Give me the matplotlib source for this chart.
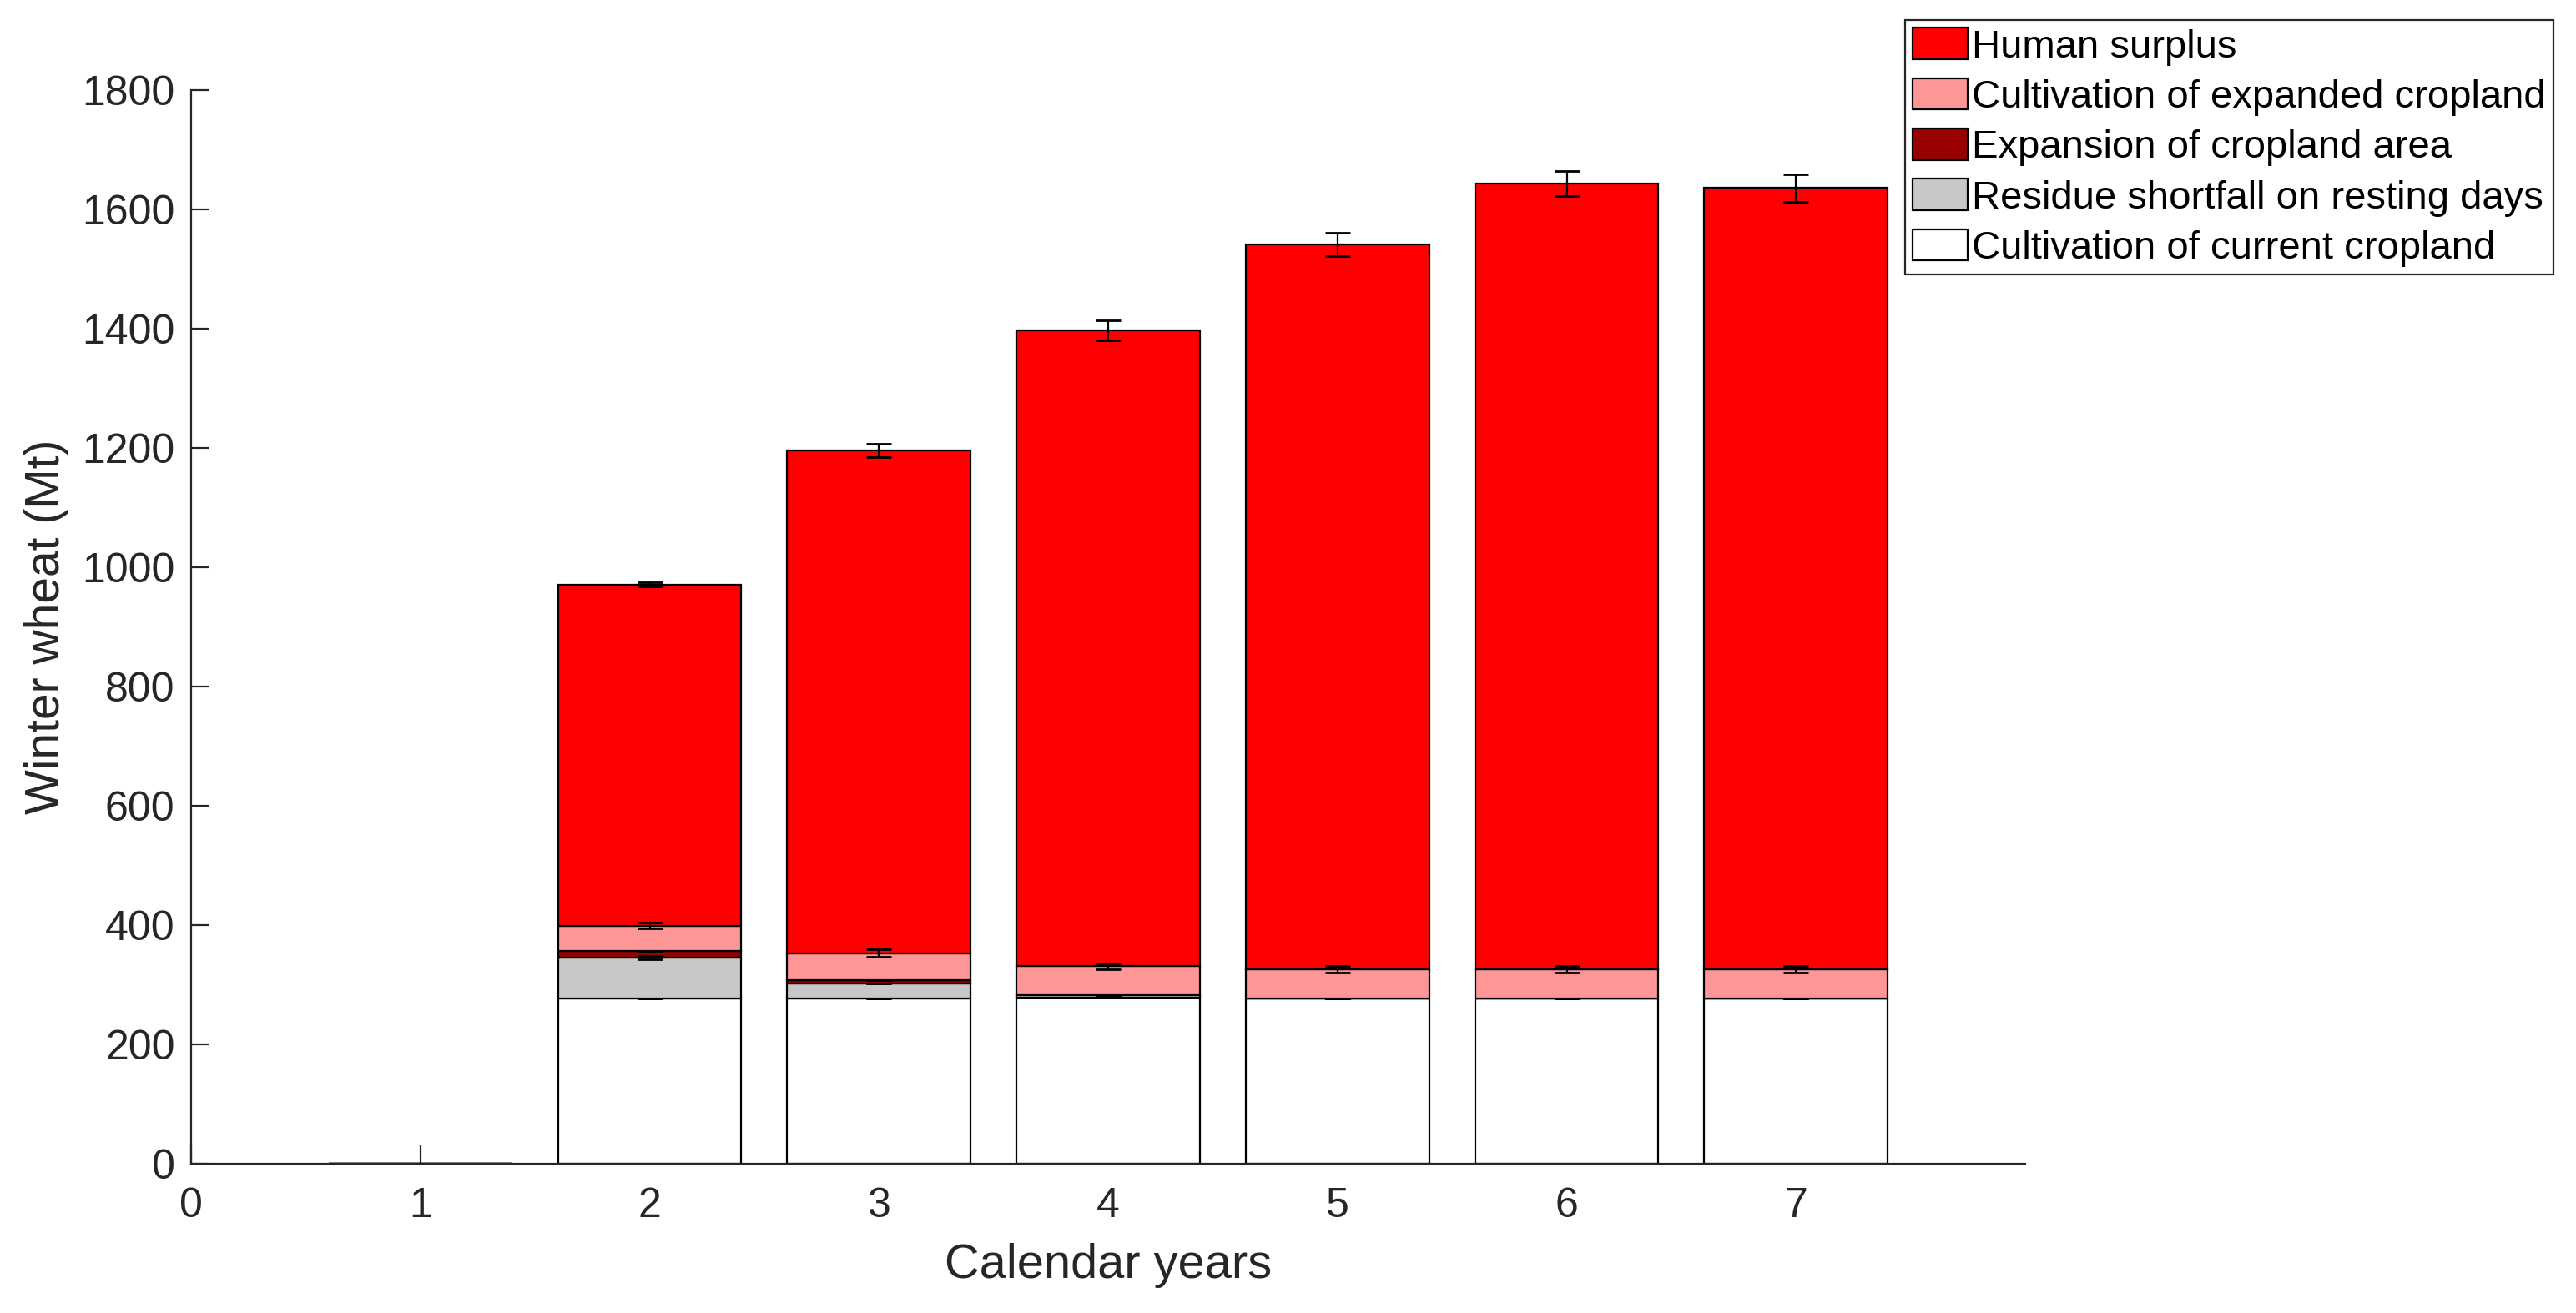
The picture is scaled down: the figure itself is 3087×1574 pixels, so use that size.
import numpy as np
import matplotlib
matplotlib.use("Agg")
import matplotlib.pyplot as plt

plt.rcParams['font.family'] = ['Liberation Sans', 'DejaVu Sans']

# Datos (Mt de trigo de invierno por anio)
anios = [1, 2, 3, 4, 5, 6, 7]
cultivo_actual = [0, 277, 277, 278, 277, 277, 277]
deficit_residuo = [0, 68, 25, 4, 0, 0, 0]
expansion_area = [0, 11, 5, 2, 0, 0, 0]
cultivo_expandido = [0, 43, 46, 47, 49, 49, 49]
excedente_humano = [0, 572, 843, 1066, 1215, 1317, 1310]

# Barras de error en la parte superior de cada segmento acumulado
err_actual = [0, 0, 0, 0, 0, 0, 0]
err_residuo = [0, 2.8, 0, 1, 0, 0, 0]
err_expansion = [0, 0, 0, 0, 0, 0, 0]
err_expandido = [0, 5, 6.5, 5, 6, 6, 6]
err_total = [0, 3.5, 11, 17, 20, 21, 23]

etiquetas = [
    'Cultivation of current cropland',
    'Residue shortfall on resting days',
    'Expansion of cropland area',
    'Cultivation of expanded cropland',
    'Human surplus',
]
colores = ['#FFFFFF', '#C8C8C8', '#990000', '#FF9696', '#FF0000']

segmentos = [cultivo_actual, deficit_residuo, expansion_area,
             cultivo_expandido, excedente_humano]
errores = [err_actual, err_residuo, err_expansion, err_expandido, err_total]

gris = '#262626'

fig = plt.figure(figsize=(3087 / 200, 1574 / 200), dpi=200)
ax = fig.add_axes([229 / 3087, 1 - 1395 / 1574, (2427 - 229) / 3087, (1395 - 108) / 1574])

x = np.array(anios)
base = np.zeros(len(anios))
barras = []
for valores, color, etiqueta in zip(segmentos, colores, etiquetas):
    b = ax.bar(x, valores, width=0.8, bottom=base, color=color,
               edgecolor='black', linewidth=0.8, label=etiqueta, zorder=2)
    barras.append(b)
    base = base + np.array(valores)
    ax.errorbar(x, base, yerr=errores[len(barras) - 1], fmt='none',
                ecolor='black', elinewidth=0.8, capsize=5.5, capthick=1.0,
                zorder=3)

ax.set_xlim(0, 8)
ax.set_ylim(0, 1800)
ax.set_xticks(range(0, 8))
ax.set_yticks(range(0, 1801, 200))

ax.spines['top'].set_visible(False)
ax.spines['right'].set_visible(False)
for s in ['left', 'bottom']:
    ax.spines[s].set_color(gris)
    ax.spines[s].set_linewidth(0.8)
    ax.spines[s].set_zorder(4)

ax.set_axisbelow(True)
ax.tick_params(axis='both', direction='in', length=7.9, width=0.8,
               color=gris, labelcolor=gris, labelsize=18)
ax.tick_params(axis='x', pad=10)
ax.tick_params(axis='y', pad=7)

ax.set_xlabel('Calendar years', fontsize=20.8, color=gris, labelpad=7.5)
ax.set_ylabel('Winter wheat (Mt)', fontsize=20.5, color=gris, labelpad=5.5)

leg = fig.legend(handles=barras[::-1], labels=etiquetas[::-1],
                 loc='upper left', bbox_to_anchor=(2283 / 3087, 1 - 24 / 1574),
                 fontsize=17, frameon=True, fancybox=False, framealpha=1,
                 edgecolor=gris, borderpad=0.2, borderaxespad=0,
                 handlelength=1.38, handleheight=0.85, handletextpad=0.12,
                 labelspacing=0.32)
leg.get_frame().set_linewidth(0.8)

fig.savefig('out.png', dpi=200)
